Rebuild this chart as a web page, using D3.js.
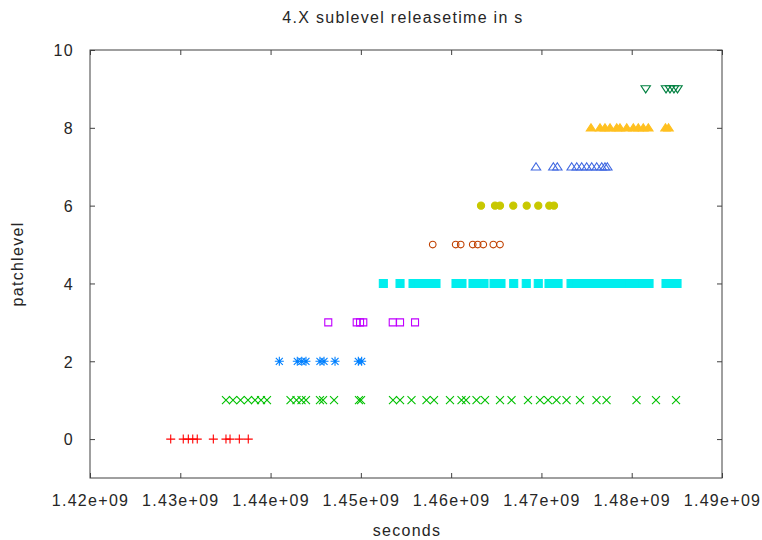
<!DOCTYPE html>
<html lang="en">
<head>
<meta charset="UTF-8">
<title>4.X sublevel releasetime in s</title>
<style>
* { margin: 0; padding: 0; }
body { background: #fff; width: 762px; height: 540px; overflow: hidden; }
svg text { font-family: "Liberation Sans", Arial, sans-serif; font-size: 16px; fill: #262626; letter-spacing: 1.3px; }
</style>
</head>
<body>
<div id="chart"></div>
<script src="https://d3js.org/d3.v7.min.js"></script>
<script>
// release times (seconds since epoch) per patchlevel
var patch0 = [1.42894e9, 1.43033e9, 1.43089e9, 1.43138e9, 1.43188e9, 1.43366e9, 1.43506e9, 1.43551e9, 1.43654e9, 1.43753e9];
var patch1 = [1.43506e9, 1.43584e9, 1.43667e9, 1.43750e9, 1.43828e9, 1.43894e9, 1.43960e9, 1.44221e9, 1.44287e9,
	1.44343e9, 1.44392e9, 1.44547e9, 1.44581e9, 1.44703e9, 1.44979e9, 1.45002e9, 1.45356e9, 1.45434e9, 1.45561e9,
	1.45727e9, 1.45810e9, 1.45987e9, 1.46115e9, 1.46165e9, 1.46281e9, 1.46375e9, 1.46541e9, 1.46669e9, 1.46851e9,
	1.46984e9, 1.47073e9, 1.47167e9, 1.47278e9, 1.47427e9, 1.47610e9, 1.47721e9, 1.48053e9, 1.48269e9, 1.48491e9];
var patch2 = [1.44097e9, 1.44296e9, 1.44345e9, 1.44392e9, 1.44547e9, 1.44592e9, 1.44714e9, 1.44972e9, 1.45009e9];
var patch3 = [1.44639e9, 1.44954e9, 1.44991e9, 1.45027e9, 1.45353e9, 1.45434e9, 1.45600e9];
var patch4 = [1.45249e9, 1.45434e9, 1.45578e9, 1.45633e9, 1.45699e9, 1.45766e9, 1.45832e9, 1.46054e9, 1.46120e9,
	1.46242e9, 1.46309e9, 1.46364e9, 1.46475e9, 1.46552e9, 1.46693e9, 1.46832e9, 1.46965e9, 1.47084e9, 1.47128e9,
	1.47184e9, 1.47328e9, 1.47383e9, 1.47460e9, 1.47516e9, 1.47582e9, 1.47660e9, 1.47715e9, 1.47782e9, 1.47859e9,
	1.47915e9, 1.47981e9, 1.48059e9, 1.48114e9, 1.48192e9, 1.48380e9, 1.48446e9, 1.48502e9];
var patch5 = [1.45796e9, 1.46050e9, 1.46106e9, 1.46239e9, 1.46294e9, 1.46356e9, 1.46467e9, 1.46541e9];
var patch6 = [1.46331e9, 1.46486e9, 1.46541e9, 1.46688e9, 1.46837e9, 1.46965e9, 1.47087e9, 1.47139e9];
var patch7 = [1.46940e9, 1.47132e9, 1.47176e9, 1.47335e9, 1.47391e9, 1.47446e9, 1.47501e9, 1.47557e9, 1.47612e9,
	1.47668e9, 1.47704e9, 1.47730e9];
var patch8 = [1.47549e9, 1.47649e9, 1.47704e9, 1.47760e9, 1.47834e9, 1.47870e9, 1.47945e9, 1.48018e9, 1.48073e9,
	1.48128e9, 1.48184e9, 1.48374e9, 1.48408e9];
var patch9 = [1.48155e9, 1.48380e9, 1.48424e9, 1.48468e9, 1.48507e9];

var seriesTimes = [patch0, patch1, patch2, patch3, patch4, patch5, patch6, patch7, patch8, patch9];
var xTicks = [1.42e9, 1.43e9, 1.44e9, 1.45e9, 1.46e9, 1.47e9, 1.48e9, 1.49e9];
var yTicks = [0, 2, 4, 6, 8, 10];

// gnuplot default line type colours and point types
var colors = ["#ff0000", "#00c000", "#0080ff", "#c000ff", "#00eeee", "#c04000", "#c8c800", "#4169e1", "#ffc020", "#008040"];
var shapes = {
	plus: "M-4.5,0H4.5M0,-4.5V4.5",
	cross: "M-4,-4L4,4M-4,4L4,-4",
	star: "M-4.5,0H4.5M0,-4.5V4.5M-3.5,-3.5L3.5,3.5M-3.5,3.5L3.5,-3.5",
	square: "M-3.5,-3.5H3.5V3.5H-3.5Z",
	box: "M-4,-4H4V4H-4Z",
	circle: "M-3.3,0A3.3,3.3 0 1,0 3.3,0A3.3,3.3 0 1,0 -3.3,0Z",
	dot: "M-3.6,0A3.6,3.6 0 1,0 3.6,0A3.6,3.6 0 1,0 -3.6,0Z",
	tri: "M0,-4L4.7,3.2H-4.7Z",
	itri: "M-4.7,-3.2H4.7L0,4Z"
};
var pointTypes = [
	{ d: "plus", fill: false }, { d: "cross", fill: false }, { d: "star", fill: false },
	{ d: "square", fill: false }, { d: "box", fill: true }, { d: "circle", fill: false },
	{ d: "dot", fill: true }, { d: "tri", fill: false }, { d: "tri", fill: true }, { d: "itri", fill: false }
];

(function() {
	var width = 762, height = 540;
	var pLeft = 90, pRight = 722, pTop = 50, pBottom = 478;

	var svg = d3.select("#chart").append("svg")
		.attr("width", width)
		.attr("height", height);

	var x = d3.scaleLinear().domain([1.42e9, 1.49e9]).range([pLeft, pRight]);
	var y = d3.scaleLinear().domain([-1, 10]).range([pBottom, pTop]);

	function fmtSec(v) { return (v / 1e9).toFixed(2) + "e+09"; }

	function styleAxis(g) {
		g.select(".domain").remove();
		g.selectAll(".tick line").attr("stroke", "#404040");
		g.selectAll("text").attr("font-size", null).attr("font-family", null).attr("fill", null);
	}

	svg.append("g").attr("transform", "translate(0," + pBottom + ")")
		.call(d3.axisBottom(x).tickValues(xTicks).tickFormat(fmtSec).tickSize(-5).tickPadding(17))
		.call(styleAxis);

	svg.append("g").attr("transform", "translate(0," + pTop + ")")
		.call(d3.axisTop(x).tickValues(xTicks).tickFormat("").tickSize(-5))
		.call(styleAxis);

	svg.append("g").attr("transform", "translate(" + pLeft + ",0)")
		.call(d3.axisLeft(y).tickValues(yTicks).tickSize(-5).tickPadding(16))
		.call(styleAxis)
		.selectAll("text").attr("dy", "0.36em");

	svg.append("g").attr("transform", "translate(" + pRight + ",0)")
		.call(d3.axisRight(y).tickValues(yTicks).tickFormat("").tickSize(-5))
		.call(styleAxis);

	svg.append("rect")
		.attr("x", pLeft).attr("y", pTop)
		.attr("width", pRight - pLeft).attr("height", pBottom - pTop)
		.attr("fill", "none").attr("stroke", "#404040").attr("stroke-width", 1);

	// one group per patchlevel
	seriesTimes.forEach(function(times, level) {
		var pt = pointTypes[level];
		var col = colors[level];
		svg.append("g").selectAll("path").data(times).join("path")
			.attr("transform", function(t) { return "translate(" + x(t) + "," + y(level) + ")"; })
			.attr("d", shapes[pt.d])
			.attr("fill", pt.fill ? col : "none")
			.attr("stroke", col)
			.attr("stroke-width", 1.1);
	});

	svg.append("text")
		.attr("x", (pLeft + pRight) / 2 - 3).attr("y", 23)
		.attr("text-anchor", "middle")
		.text("4.X sublevel releasetime in s");

	svg.append("text")
		.attr("x", (pLeft + pRight) / 2 + 1).attr("y", 536)
		.attr("text-anchor", "middle")
		.text("seconds");

	svg.append("text")
		.attr("transform", "translate(23," + ((pTop + pBottom) / 2) + ") rotate(-90)")
		.attr("text-anchor", "middle")
		.text("patchlevel");
})();
</script>
</body>
</html>
